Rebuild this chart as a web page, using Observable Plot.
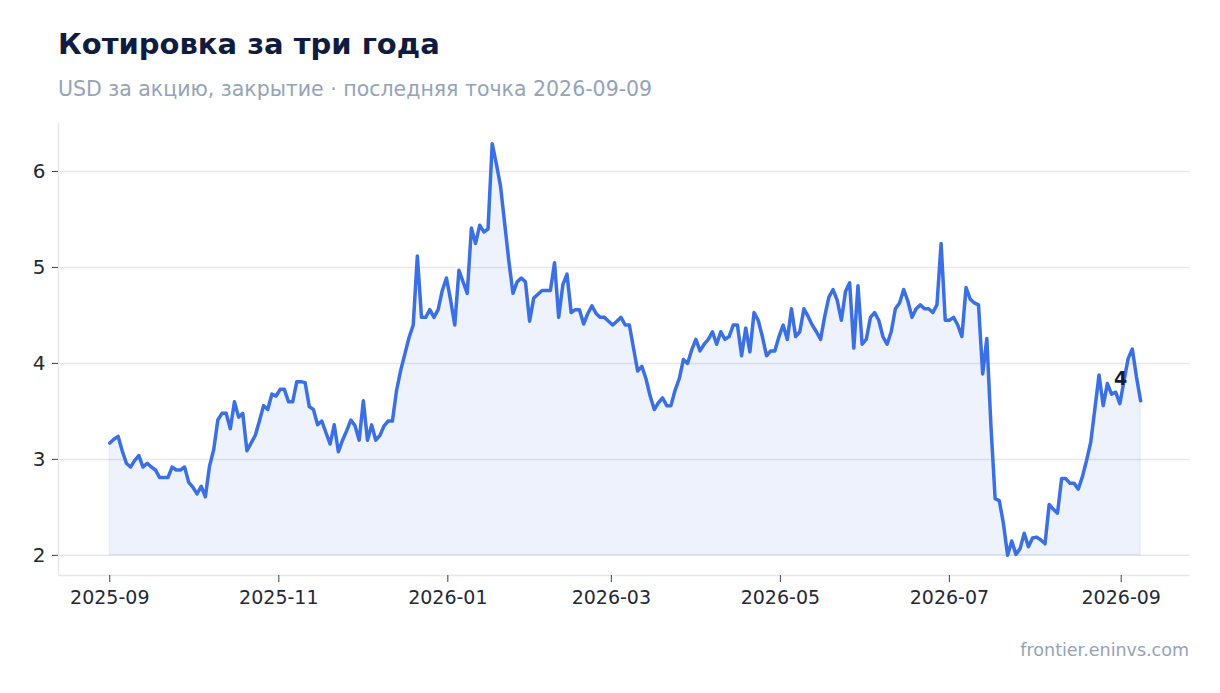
<!DOCTYPE html>
<html>
<head>
<meta charset="utf-8">
<script src="https://cdn.jsdelivr.net/npm/d3@7"></script>
<script src="https://cdn.jsdelivr.net/npm/@observablehq/plot@0.6"></script>
<style>
  html, body { margin: 0; padding: 0; background: #ffffff; }
  #page { position: relative; width: 1220px; height: 693px; background: #ffffff; font-family: "DejaVu Sans", sans-serif; overflow: hidden; }
  #title { position: absolute; left: 58px; top: 30px; font-size: 29px; line-height: 1; font-weight: bold; color: #0f1c3f; white-space: nowrap; }
  #subtitle { position: absolute; left: 58px; top: 79px; font-size: 20.5px; line-height: 1; color: #94a3b8; white-space: nowrap; }
  #chart { position: absolute; left: 0; top: 110px; }
  #caption { position: absolute; right: 31px; top: 642px; font-size: 17.5px; line-height: 1; color: #94a3b8; white-space: nowrap; }
</style>
</head>
<body>
<div id="page">
  <div id="title">Котировка за три года</div>
  <div id="subtitle">USD за акцию, закрытие · последняя точка 2026-09-09</div>
  <div id="chart"></div>
  <div id="caption">frontier.eninvs.com</div>
</div>
<script>
// ---- data ----
const startDate = "2025-09-01T00:00Z";
const stepHours = 36; // one observation every 1.5 days
const values = [
  3.17, 3.21, 3.24, 3.09, 2.96, 2.92, 2.99, 3.04, 2.92, 2.96,
  2.92, 2.89, 2.81, 2.81, 2.81, 2.92, 2.89, 2.89, 2.92, 2.76,
  2.71, 2.64, 2.72, 2.61, 2.93, 3.10, 3.41, 3.48, 3.48, 3.32,
  3.60, 3.44, 3.48, 3.09, 3.17, 3.25, 3.40, 3.56, 3.52, 3.68,
  3.66, 3.73, 3.73, 3.60, 3.60, 3.81, 3.81, 3.80, 3.55, 3.52,
  3.36, 3.40, 3.28, 3.16, 3.36, 3.08, 3.20, 3.30, 3.41, 3.35,
  3.20, 3.61, 3.20, 3.36, 3.20, 3.25, 3.35, 3.40, 3.40, 3.72,
  3.93, 4.10, 4.27, 4.40, 5.12, 4.48, 4.48, 4.56, 4.48, 4.56,
  4.76, 4.89, 4.66, 4.40, 4.97, 4.85, 4.73, 5.41, 5.25, 5.44,
  5.37, 5.40, 6.29, 6.08, 5.85, 5.46, 5.07, 4.73, 4.85, 4.89,
  4.85, 4.44, 4.68, 4.72, 4.76, 4.76, 4.76, 5.05, 4.48, 4.82,
  4.93, 4.53, 4.56, 4.56, 4.41, 4.52, 4.60, 4.52, 4.48, 4.48,
  4.44, 4.40, 4.44, 4.48, 4.40, 4.40, 4.16, 3.92, 3.97, 3.84,
  3.66, 3.52, 3.59, 3.64, 3.56, 3.56, 3.72, 3.84, 4.04, 4.00,
  4.14, 4.25, 4.13, 4.20, 4.25, 4.33, 4.20, 4.33, 4.25, 4.28,
  4.40, 4.40, 4.08, 4.37, 4.12, 4.53, 4.45, 4.28, 4.08, 4.13,
  4.13, 4.28, 4.40, 4.25, 4.57, 4.28, 4.33, 4.57, 4.49, 4.40,
  4.33, 4.25, 4.49, 4.69, 4.77, 4.66, 4.45, 4.75, 4.84, 4.16,
  4.81, 4.20, 4.25, 4.48, 4.53, 4.45, 4.28, 4.20, 4.33, 4.57,
  4.63, 4.77, 4.65, 4.48, 4.57, 4.61, 4.57, 4.57, 4.53, 4.61,
  5.25, 4.45, 4.45, 4.48, 4.40, 4.28, 4.79, 4.67, 4.63, 4.61,
  3.89, 4.26, 3.34, 2.59, 2.57, 2.33, 2.00, 2.15, 2.01, 2.07,
  2.23, 2.09, 2.18, 2.19, 2.16, 2.12, 2.53, 2.48, 2.44, 2.80,
  2.80, 2.75, 2.75, 2.69, 2.82, 2.99, 3.18, 3.53, 3.88, 3.56,
  3.79, 3.68, 3.70, 3.58, 3.82, 4.05, 4.15, 3.86, 3.61
];
const yTicks = [2, 3, 4, 5, 6];
const xTickDates = ["2025-09-01", "2025-11-01", "2026-01-01", "2026-03-01", "2026-05-01", "2026-07-01", "2026-09-01"];
const xDomain = ["2025-08-13T12:00Z", "2026-09-26T00:00Z"];
const yDomain = [1.79, 6.5];

// ---- build table ----
const t0 = new Date(startDate);
const data = values.map((v, i) => ({ date: d3.utcHour.offset(t0, stepHours * i), value: v }));
const base = d3.min(values);
const last = data[data.length - 1];
const xDom = xDomain.map(d => new Date(d));
const xTicks = xTickDates.map(d => new Date(d + "T00:00Z"));

const lineColor = "#3b6fe6";
const gridColor = "#e5e8ee";

const chart = Plot.plot({
  width: 1220,
  height: 530,
  marginLeft: 58,
  marginRight: 30,
  marginTop: 13,
  marginBottom: 65,
  style: { fontFamily: "DejaVu Sans", background: "#ffffff", color: "#1f2937", overflow: "visible" },
  x: { type: "utc", domain: xDom },
  y: { domain: yDomain },
  marks: [
    Plot.gridY(yTicks, { stroke: gridColor, strokeOpacity: 1, strokeWidth: 1.5 }),
    Plot.ruleX([xDom[0]], { stroke: gridColor, strokeWidth: 1.5 }),
    Plot.ruleY([yDomain[0]], { stroke: gridColor, strokeWidth: 1.5 }),
    Plot.areaY(data, { x: "date", y1: base, y2: "value", fill: lineColor, fillOpacity: 0.09, stroke: lineColor, strokeOpacity: 0.08, strokeWidth: 1.5 }),
    Plot.lineY(data, { x: "date", y: "value", stroke: lineColor, strokeWidth: 3.5, strokeLinejoin: "round", strokeLinecap: "round" }),
    Plot.text([last], { x: "date", y: "value", text: d => d3.format(".0f")(d.value), dx: -20, dy: -22, fontSize: 19, fontWeight: "bold", fill: "#0f1c3f" }),
    Plot.axisY(yTicks, { tickFormat: d3.format("d"), fontSize: 20, tickSize: 6, tickPadding: 7, label: null, stroke: "#374151", fill: "#1f2937" }),
    Plot.axisX(xTicks, { tickFormat: d3.utcFormat("%Y-%m"), fontSize: 19, tickSize: 7, tickPadding: 8, label: null, stroke: "#374151", fill: "#1f2937" })
  ]
});
document.getElementById("chart").appendChild(chart);
</script>
</body>
</html>
